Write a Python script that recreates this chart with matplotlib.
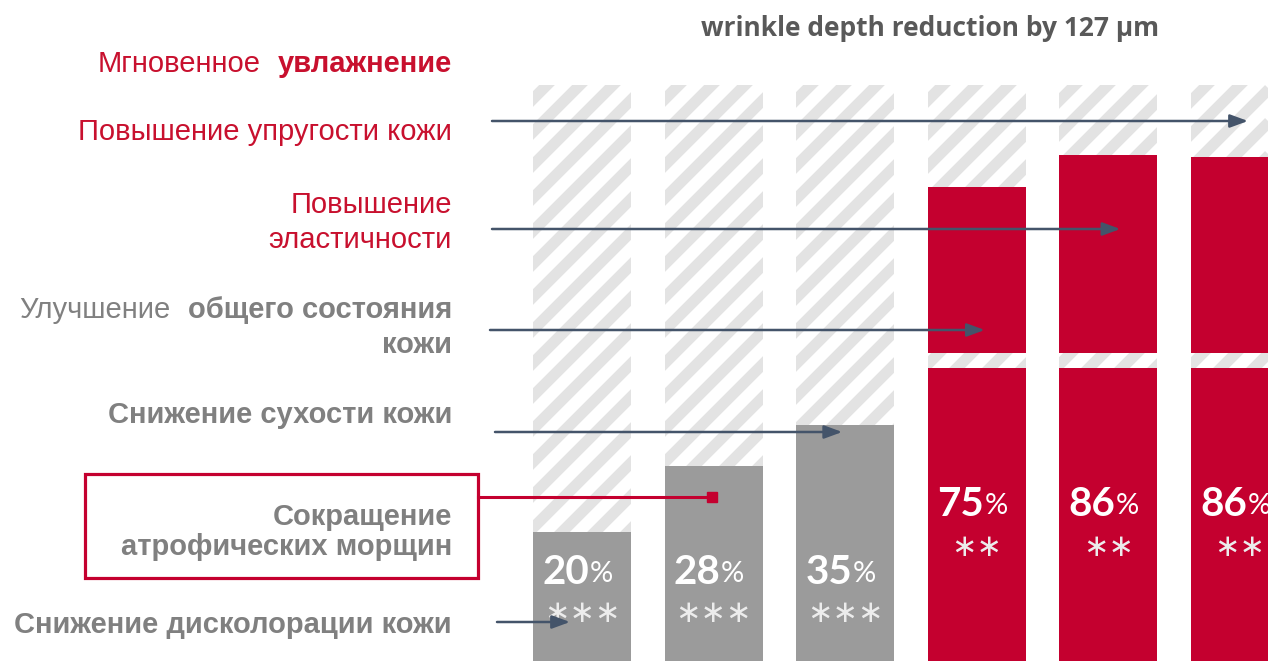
import matplotlib
matplotlib.use('Agg')
import matplotlib.pyplot as plt
import matplotlib.transforms as mtransforms
from matplotlib.collections import LineCollection
from matplotlib.patches import Rectangle
import numpy as np

# ---------------- data ----------------
percent_values = [20, 28, 35, 75, 86, 86]
significance = ['∗∗∗', '∗∗∗', '∗∗∗', '∗∗', '∗∗', '∗∗']
bar_heights = [129, 195, 236, 474, 506, 504]      # bar tops
bar_is_red = [False, False, False, True, True, True]
background_height = 576
red_gap = (293, 308)                                  # white break in red bars
title = 'wrinkle depth reduction by 127 µm'

# label lines: list of (text, bold) parts per line
labels = [
    dict(lines=[[('Мгновенное', False), ('увлажнение', True)]], color='red', base=[72], arrow=None),
    dict(lines=[[('Повышение упругости кожи', False)]], color='red', base=[140], arrow=(492, 121, 5, 8)),
    dict(lines=[[('Повышение', False)], [('эластичности', False)]], color='red', base=[213, 248], arrow=(492, 229, 4, 12)),
    dict(lines=[[('Улучшение', False), ('общего состояния', True)], [('кожи', True)]], color='gray', base=[318, 353], arrow=(490, 330, 3, 8)),
    dict(lines=[[('Снижение сухости кожи', True)]], color='gray', base=[423], arrow=(495, 432, 2, -3)),
    dict(lines=[[('Сокращение', True)], [('атрофических морщин', True)]], color='gray', base=[525, 555], arrow=None),
    dict(lines=[[('Снижение дисколорации кожи', True)]], color='gray', base=[633], arrow=(497, 622, 0, -12)),
]

# ---------------- style ----------------
W, H, DPI = 1268, 661, 100
RED = '#c4002f'
TXT_RED = '#c8102e'
GRAY_BAR = '#9b9b9b'
TXT_GRAY = '#808080'
STRIPE = '#e3e3e3'
ARROW = '#44546a'
PITCH = 131.6
C0 = 582
BAR_W = 98 / PITCH
LABEL_FONT = 'Liberation Sans'
LABEL_SIZE = 21

fig = plt.figure(figsize=(W / DPI, H / DPI), dpi=DPI)
ax = fig.add_axes([0, 0, 1, 1])
ax.set_xlim(-C0 / PITCH, (W - C0) / PITCH)
ax.set_ylim(0, H)
ax.axis('off')
px = mtransforms.Affine2D().scale(1 / W, -1 / H).translate(0, 1) + fig.transFigure

x = np.arange(len(percent_values))

# hatched backgrounds
bg = ax.bar(x, [background_height] * len(x), width=BAR_W, color='white', zorder=1)
cs = np.arange(500, 2100, 33)
segs = [[(c, 0), (c - 800, 800)] for c in cs]
for rect in bg.patches:
    lc = LineCollection(segs, colors=STRIPE, linewidths=8, transform=px, zorder=2)
    ax.add_collection(lc)
    lc.set_clip_path(rect)

# bars
for i in range(len(x)):
    if bar_is_red[i]:
        ax.bar(x[i], red_gap[0], width=BAR_W, color=RED, zorder=3)
        ax.bar(x[i], bar_heights[i] - red_gap[1], bottom=red_gap[1], width=BAR_W, color=RED, zorder=3)
        ynum, ystar = 156, 114
    else:
        ax.bar(x[i], bar_heights[i], width=BAR_W, color=GRAY_BAR, zorder=3)
        ynum, ystar = 88, 48
    ax.annotate(str(percent_values[i]), xy=(x[i], ynum), xytext=(5, 0), textcoords='offset points',
                ha='right', va='center', color='white', fontsize=29, fontweight='bold',
                family='Lato', zorder=5)
    ax.annotate('%', xy=(x[i], ynum), xytext=(5.5, -1), textcoords='offset points',
                ha='left', va='center', color='white', fontsize=21, family='Lato', zorder=5)
    ax.text(x[i], ystar, significance[i], ha='center', va='center', color='#ececec',
            fontsize=22, family='DejaVu Sans', zorder=5)

# title
ax.text(930, 28, title, transform=px, ha='center', va='center', fontsize=19,
        fontweight='bold', family='Open Sans', color='#595959')

# labels
fig.canvas.draw()
renderer = fig.canvas.get_renderer()
for lab in labels:
    col = TXT_RED if lab['color'] == 'red' else TXT_GRAY
    for parts, yb in zip(lab['lines'], lab['base']):
        xr = 452
        for text, bold in reversed(parts):
            t = ax.text(xr, yb, text, transform=px, ha='right', va='baseline',
                        fontsize=LABEL_SIZE, family=LABEL_FONT,
                        fontweight='bold' if bold else 'normal', color=col)
            bb = t.get_window_extent(renderer)
            xr = xr - bb.width - 17
    if lab['arrow'] is not None:
        x0, y0, bi, dx = lab['arrow']
        xt = bi + dx / PITCH
        ax.annotate('', xy=(xt, H - y0), xycoords='data', xytext=(x0, y0), textcoords=px,
                    arrowprops=dict(arrowstyle='-|>,head_length=0.9,head_width=0.33',
                                    color=ARROW, lw=1.8, shrinkA=0, shrinkB=0,
                                    mutation_scale=12), zorder=6)

# framed label with connector
ax.add_patch(Rectangle((85, 474), 393, 104, transform=px, fill=False, edgecolor=RED,
                       lw=2.3, zorder=6))
ax.plot([478, 712], [497, 497], transform=px, color=RED, lw=2.2, zorder=6)
ax.plot([1 - 1.5 / PITCH], [H - 497], marker='s', ms=7, color=RED, zorder=7)

fig.savefig('out.png', dpi=DPI)
